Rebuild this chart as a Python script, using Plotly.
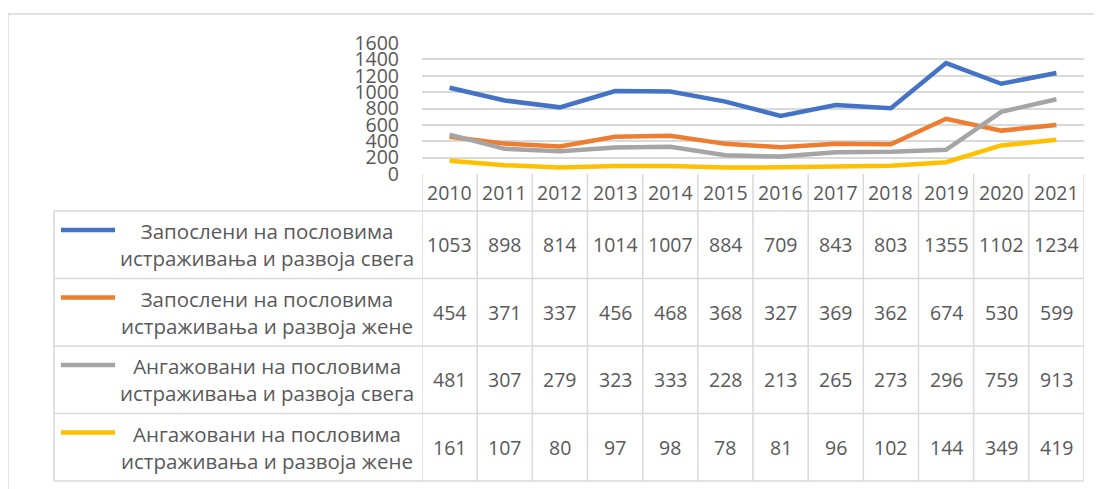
import plotly.graph_objects as go

years = ["2010", "2011", "2012", "2013", "2014", "2015", "2016", "2017", "2018", "2019", "2020", "2021"]
series_names = [
    "Запослени на пословима<br>истраживања и развоја свега",
    "Запослени на пословима<br>истраживања и развоја жене",
    "Ангажовани на пословима<br>истраживања и развоја свега",
    "Ангажовани на пословима<br>истраживања и развоја жене",
]
zaposleni_svega = [1053, 898, 814, 1014, 1007, 884, 709, 843, 803, 1355, 1102, 1234]
zaposleni_zene = [454, 371, 337, 456, 468, 368, 327, 369, 362, 674, 530, 599]
angazovani_svega = [481, 307, 279, 323, 333, 228, 213, 265, 273, 296, 759, 913]
angazovani_zene = [161, 107, 80, 97, 98, 78, 81, 96, 102, 144, 349, 419]
y_ticks = [0, 200, 400, 600, 800, 1000, 1200, 1400, 1600]

series_values = [zaposleni_svega, zaposleni_zene, angazovani_svega, angazovani_zene]
colors = ["#4472C4", "#ED7D31", "#A5A5A5", "#FFC000"]

W, H = 1102, 489
OFF = 8  # page body margin
FONT = "Open Sans"
TXT = "#595959"
GRID = "#D9D9D9"
FS = 19.5
FS_LABEL = 20.5


def X(px):
    return (px - OFF) / W


def Y(py):
    return 1 - (py - OFF) / H


plot_left, plot_right = 422, 1084
plot_top, plot_bottom = 43, 174
row_tops = [211, 278.5, 346, 413.5, 481]
label_left = 54

fig = go.Figure()
for name, vals, col in zip(series_names, series_values, colors):
    fig.add_trace(go.Scatter(
        x=list(range(len(years))), y=vals, mode="lines",
        line=dict(color=col, width=4.5), name=name.replace("<br>", " "),
        showlegend=False,
    ))

shapes = []
ann = []
line_style = dict(color=GRID, width=1.5)

# outer chart border (cropped)
shapes.append(dict(type="line", xref="paper", yref="paper", x0=X(8), x1=X(1110), y0=Y(14), y1=Y(14), line=line_style))
shapes.append(dict(type="line", xref="paper", yref="paper", x0=X(8), x1=X(8), y0=Y(14), y1=Y(497), line=line_style))

# table: vertical column lines
n = len(years)
for k in range(n + 1):
    shapes.append(dict(type="line", xref="x", yref="paper", x0=k - 0.5, x1=k - 0.5,
                       y0=Y(plot_bottom), y1=Y(row_tops[-1]), line=line_style))
# label column left border
shapes.append(dict(type="line", xref="paper", yref="paper", x0=X(label_left), x1=X(label_left),
                   y0=Y(row_tops[0]), y1=Y(row_tops[-1]), line=line_style))
# horizontal lines
for yy in row_tops:
    shapes.append(dict(type="line", xref="paper", yref="paper", x0=X(label_left), x1=X(plot_right),
                       y0=Y(yy), y1=Y(yy), line=line_style))

# header years
for i, yr in enumerate(years):
    ann.append(dict(x=i, y=Y(193), xref="x", yref="paper", text=yr, showarrow=False,
                    font=dict(family=FONT, size=FS, color=TXT), xanchor="center", yanchor="middle"))

# rows
for r, (name, vals, col) in enumerate(zip(series_names, series_values, colors)):
    top, bot = row_tops[r], row_tops[r + 1]
    cy = (top + bot) / 2
    for i, v in enumerate(vals):
        ann.append(dict(x=i, y=Y(cy), xref="x", yref="paper", text=str(v), showarrow=False,
                        font=dict(family=FONT, size=FS, color=TXT), xanchor="center", yanchor="middle"))
    shapes.append(dict(type="line", xref="paper", yref="paper", x0=X(61), x1=X(115),
                       y0=Y(top + 19), y1=Y(top + 19), line=dict(color=col, width=4.5)))
    ann.append(dict(x=X(267), y=Y(cy), xref="paper", yref="paper", text=name, showarrow=False,
                    font=dict(family=FONT, size=FS_LABEL, color=TXT), xanchor="center", yanchor="middle",
                    align="center"))

fig.update_layout(
    width=W, height=H, autosize=False,
    margin=dict(l=0, r=0, t=0, b=0, pad=0, autoexpand=False),
    paper_bgcolor="white", plot_bgcolor="white",
    shapes=shapes, annotations=ann,
    xaxis=dict(domain=[X(plot_left), X(plot_right)], range=[-0.5, n - 0.5], automargin=False,
               showticklabels=False, showgrid=False, zeroline=False, showline=False, ticks=""),
    yaxis=dict(domain=[Y(plot_bottom), Y(plot_top)], range=[0, 1600], tickvals=y_ticks, automargin=False,
               ticktext=[str(t) for t in y_ticks], showgrid=True, gridcolor=GRID, gridwidth=1.5,
               zeroline=False, showline=False, ticks="", ticklabelstandoff=22,
               tickfont=dict(family=FONT, size=FS, color=TXT)),
    showlegend=False,
)

fig.write_html("out.html")
